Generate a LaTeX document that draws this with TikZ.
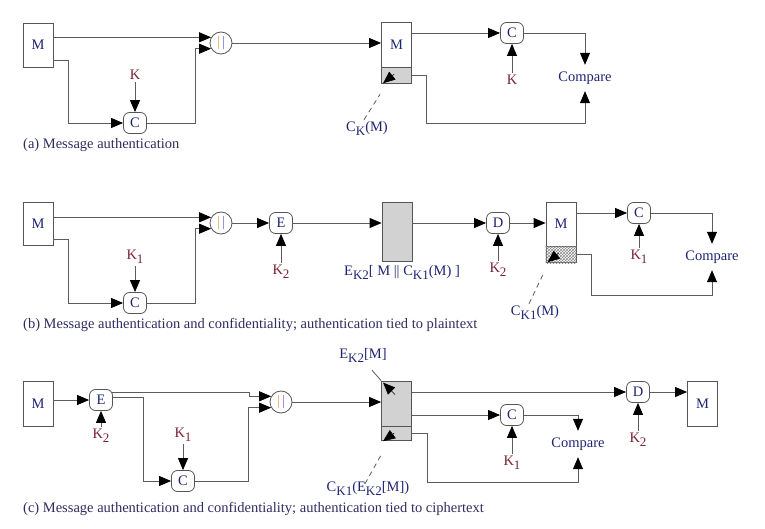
\documentclass[tikz,border=0pt]{standalone}
\usepackage{fontspec}
\setmainfont{Liberation Serif}
\usetikzlibrary{arrows.meta,calc,patterns}
\definecolor{navy}{HTML}{1E2472}
\definecolor{maroon}{HTML}{7A2233}
\definecolor{capc}{HTML}{2E2C5E}
\definecolor{linec}{HTML}{5C5C5C}
\definecolor{boxc}{HTML}{555555}
\definecolor{grayf}{HTML}{D2D2D2}
\definecolor{barO}{HTML}{E0A050}
\definecolor{barB}{HTML}{7070C8}
\newcommand{\lsub}[1]{\raisebox{-4pt}{\fontsize{13}{13}\selectfont #1}}
\newcommand{\bars}{{\color{barO}|}\hspace{2pt}{\color{barB}|}}
\begin{document}
\begin{tikzpicture}[x=1pt,y=-1pt,
  every node/.style={font=\fontsize{14.5}{16}\selectfont},
  arr/.style={draw=linec,line width=0.8pt,-{Triangle[length=12pt,width=10pt,color=black]}},
  ln/.style={draw=linec,line width=0.8pt},
  msgbox/.style={draw=boxc,line width=0.8pt,fill=white,minimum width=30pt,inner sep=0,text=navy},
  graybox/.style={draw=boxc,line width=0.8pt,fill=grayf,minimum width=30pt,inner sep=0},
  fn/.style={draw=boxc,line width=0.8pt,rounded corners=6pt,minimum width=23pt,minimum height=21pt,inner sep=0,text=navy,fill=white},
  cat/.style={draw=boxc,line width=0.8pt,circle,minimum size=22pt,inner sep=0,fill=white},
  key/.style={text=maroon,inner sep=2pt},
  cmp/.style={text=navy,inner sep=0,minimum height=26pt},
  lbl/.style={text=navy,inner sep=1pt},
  captext/.style={text=capc,anchor=west,inner sep=0},
  tipa/.style={draw=black,line width=0.6pt,-{Triangle[length=12pt,width=10pt]}},
  lead/.style={draw=linec,line width=0.8pt,dash pattern=on 5pt off 4pt},
]
\useasboundingbox (0,0) rectangle (765,529);

% ---------------- (a)
\node[msgbox,minimum height=44pt] (Ma) at (38,45) {M};
\node[cat] (cA) at (221,43) {\bars};
\node[fn] (Ca) at (135,123) {C};
\node[key] (kA) at (135,75) {K};
\draw[arr] (Ma.east |- cA.150) -- (cA.150);
\draw[arr] ([yshift=-15pt]Ma.east) -- ++(15,0) |- (Ca.west);
\draw[arr] (kA.south) -- (Ca.north);
\draw[arr] (Ca.east) -| ([xshift=-16pt]cA.210) -- (cA.210);
\node[msgbox,minimum height=45pt] (MA) at (396.5,44.5) {M};
\node[graybox,minimum height=16pt,anchor=north] (GA) at (MA.south) {};
\draw[arr] (cA.east) -- (cA.east -| MA.west);
\node[fn] (CA) at (512,33) {C};
\node[key] (kA2) at (512,80) {K};
\node[cmp] (cmpA) at (585,78) {Compare};
\draw[arr] (CA.west -| MA.east) -- (CA.west);
\draw[arr] (kA2.north) -- (CA.south);
\draw[arr] (CA.east) -| (cmpA.north);
\draw[arr] (GA.east) -- ++(14,0) -- ++(0,48) -| (cmpA.south);
\node[lbl] (ckA) at (367,128) {C\lsub{K}(M)};
\draw[lead] ([xshift=-3pt]ckA.north) -- ([xshift=-1pt,yshift=-10pt]GA.south west);
\draw[tipa] ([xshift=13pt,yshift=10pt]GA.south west) -- ([xshift=2pt,yshift=1pt]GA.south west);
\node[captext] (capA) at (23,145) {(a) Message authentication};

% ---------------- (b)
\node[msgbox,minimum height=43pt] (Mb) at (38,223.5) {M};
\node[cat] (cB) at (221,223) {\bars};
\node[fn] (Cb) at (135,303) {C};
\node[key] (kB1) at (135,257) {K\lsub{1}};
\draw[arr] (Mb.east |- cB.150) -- (cB.150);
\draw[arr] ([yshift=-15.5pt]Mb.east) -- ++(15,0) |- (Cb.west);
\draw[arr] (kB1.south) -- (Cb.north);
\draw[arr] (Cb.east) -| ([xshift=-16pt]cB.210) -- (cB.210);
\node[fn] (Eb) at (281,223) {E};
\draw[arr] (cB.east) -- (Eb.west);
\node[key] (kB2) at (281,272) {K\lsub{2}};
\draw[arr] (kB2.north) -- (Eb.south);
\node[graybox,minimum height=59pt] (GB) at (397,231.5) {};
\draw[arr] (Eb.east) -- (Eb.east -| GB.west);
\node[lbl] (encB) at (402,272) {E\lsub{K2}[ M || C\lsub{K1}(M) ]};
\node[fn] (Db) at (498,223) {D};
\draw[arr] (Db.west -| GB.east) -- (Db.west);
\node[key] (kB3) at (498,270) {K\lsub{2}};
\draw[arr] (kB3.north) -- (Db.south);
\node[msgbox,minimum height=44pt] (MB) at (561,224) {M};
\node[draw=boxc,line width=0.8pt,fill=white,minimum width=30pt,minimum height=16pt,inner sep=0,anchor=north] (HB) at (MB.south) {};
\fill[pattern=crosshatch,pattern color=black!45] (HB.south west) rectangle (HB.north east);
\draw[arr] (Db.east) -- (Db.east -| MB.west);
\node[fn] (Cb2) at (639,213) {C};
\draw[arr] (Cb2.west -| MB.east) -- (Cb2.west);
\node[key] (kB4) at (639,257) {K\lsub{1}};
\draw[arr] (kB4.north) -- (Cb2.south);
\node[cmp] (cmpB) at (712,257) {Compare};
\draw[arr] (Cb2.east) -| (cmpB.north);
\draw[arr] (HB.east) -- ++(15,0) -- ++(0,41) -| (cmpB.south);
\node[lbl] (ckB) at (535,312) {C\lsub{K1}(M)};
\draw[lead] ([xshift=-6pt]ckB.north) -- ([xshift=-2pt,yshift=-10pt]HB.south west);
\draw[tipa] ([xshift=13pt,yshift=10pt]HB.south west) -- ([xshift=2pt,yshift=1pt]HB.south west);
\node[captext] (capB) at (23,325) {(b) Message authentication and confidentiality; authentication tied to plaintext};

% ---------------- (c)
\node[msgbox,minimum height=45pt] (Mc) at (38,403.5) {M};
\node[fn] (Ec) at (101,400) {E};
\draw[arr] (Ec.west -| Mc.east) -- (Ec.west);
\node[key] (kC1) at (101,436) {K\lsub{2}};
\draw[arr] (kC1.north) -- (Ec.south);
\node[cat] (cC) at (281,402) {\bars};
\node[fn] (Cc) at (183,481) {C};
\draw[arr] ([xshift=-1pt,yshift=8pt]Ec.east) -- ++(137,0) |- (cC.150);
\draw[arr] ([yshift=3pt]Ec.east) -- ++(30,0) |- (Cc.west);
\node[key] (kC2) at (183,435) {K\lsub{1}};
\draw[arr] (kC2.south) -- (Cc.north);
\draw[arr] (Cc.east) -| ([xshift=-23pt]cC.210) -- (cC.210);
\node[graybox,minimum height=45pt] (GC) at (396.5,403.5) {};
\node[graybox,minimum height=14pt,anchor=north] (GCb) at (GC.south) {};
\draw[arr] (cC.east) -- (cC.east -| GC.west);
\node[fn] (Dc) at (638,392) {D};
\draw[arr] (Dc.west -| GC.east) -- (Dc.west);
\node[msgbox,minimum height=45pt] (Mc2) at (702.5,403.5) {M};
\draw[arr] (Dc.east) -- (Dc.east -| Mc2.west);
\node[key] (kC3) at (638,440) {K\lsub{2}};
\draw[arr] (kC3.north) -- (Dc.south);
\node[fn] (Cc2) at (512,415) {C};
\draw[arr] (Cc2.west -| GC.east) -- (Cc2.west);
\node[key] (kC4) at (512,463) {K\lsub{1}};
\draw[arr] (kC4.north) -- (Cc2.south);
\node[cmp] (cmpC) at (578,444) {Compare};
\draw[arr] (Cc2.east) -| (cmpC.north);
\draw[arr] (GCb.east) -- ++(15,0) -- ++(0,49) -| (cmpC.south);
\node[lbl] (ekC) at (363,355) {E\lsub{K2}[M]};
\draw[ln] ([xshift=9pt,yshift=-7pt]ekC.south) -- (GC.north west);
\draw[tipa] ([xshift=14pt,yshift=-14pt]GC.north west) -- ([xshift=2pt,yshift=-2pt]GC.north west);
\node[lbl] (ckC) at (368,488) {C\lsub{K1}(E\lsub{K2}[M])};
\draw[lead] ([xshift=-3pt,yshift=-4pt]ckC.north) -- ([xshift=1pt,yshift=-12pt]GCb.south west);
\draw[tipa] ([xshift=13pt,yshift=8pt]GCb.south west) -- ([xshift=2pt,yshift=0pt]GCb.south west);
\node[captext] (capC) at (23,509) {(c) Message authentication and confidentiality; authentication tied to ciphertext};
\end{tikzpicture}
\end{document}
